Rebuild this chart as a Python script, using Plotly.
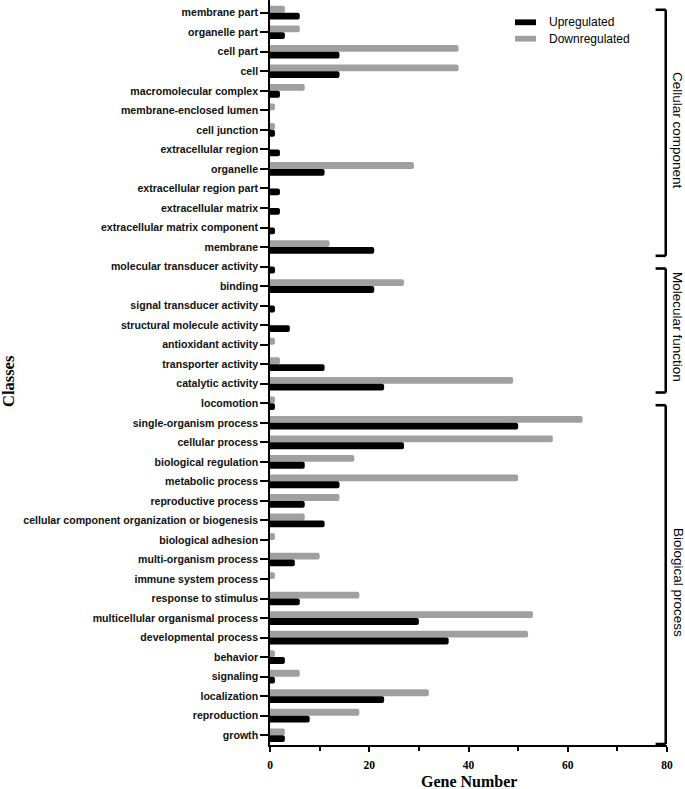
import plotly.graph_objects as go

categories = [
    "membrane part", "organelle part", "cell part", "cell", "macromolecular complex",
    "membrane-enclosed lumen", "cell junction", "extracellular region", "organelle",
    "extracellular region part", "extracellular matrix", "extracellular matrix component",
    "membrane",
    "molecular transducer activity", "binding", "signal transducer activity",
    "structural molecule activity", "antioxidant activity", "transporter activity",
    "catalytic activity",
    "locomotion", "single-organism process", "cellular process", "biological regulation",
    "metabolic process", "reproductive process",
    "cellular component organization or biogenesis", "biological adhesion",
    "multi-organism process", "immune system process", "response to stimulus",
    "multicellular organismal process", "developmental process", "behavior", "signaling",
    "localization", "reproduction", "growth",
]
upregulated = [6, 3, 14, 14, 2, 0, 1, 2, 11, 2, 2, 1, 21,
               1, 21, 1, 4, 0, 11, 23,
               1, 50, 27, 7, 14, 7, 11, 0, 5, 0, 6, 30, 36, 3, 1, 23, 8, 3]
downregulated = [3, 6, 38, 38, 7, 1, 1, 0, 29, 0, 0, 0, 12,
                 0, 27, 0, 0, 1, 2, 49,
                 1, 63, 57, 17, 50, 14, 7, 1, 10, 1, 18, 53, 52, 1, 6, 32, 18, 3]
x_ticks = [0, 20, 40, 60, 80]
groups = ["Cellular component", "Molecular function", "Biological process"]
group_first = ["membrane part", "molecular transducer activity", "locomotion"]
group_last = ["membrane", "catalytic activity", "growth"]
series_names = ["Upregulated", "Downregulated"]
series_colors = ["#000000", "#a0a0a0"]

SANS = "Liberation Sans"
SERIF = "Liberation Serif"
PLOT_H = 745.0

fig = go.Figure()
fig.add_trace(go.Bar(
    y=categories, x=downregulated, name="Downregulated", orientation="h",
    marker=dict(color=series_colors[1], line=dict(width=0)), showlegend=False,
))
fig.add_trace(go.Bar(
    y=categories, x=upregulated, name="Upregulated", orientation="h",
    marker=dict(color=series_colors[0], line=dict(width=0)), showlegend=False,
))

idx = {c: i for i, c in enumerate(categories)}
shapes = []
annotations = []
label_centers = [6.06, 16.1, 29.2]
for g, f, l, lc in zip(groups, group_first, group_last, label_centers):
    y0 = idx[f] - 0.15 if f == "membrane part" else idx[f] + 0.1
    y1 = idx[l] + 0.45
    xv = 79.75
    xa = 77.7
    lw = 2.6
    shapes.append(dict(type="line", xref="x", yref="y", x0=xv, x1=xv, y0=y0, y1=y1,
                       line=dict(color="black", width=lw)))
    shapes.append(dict(type="line", xref="x", yref="y", x0=xa, x1=xv, y0=y0, y1=y0,
                       line=dict(color="black", width=lw)))
    shapes.append(dict(type="line", xref="x", yref="y", x0=xa, x1=xv, y0=y1, y1=y1,
                       line=dict(color="black", width=lw)))
    annotations.append(dict(text=g, xref="paper", yref="y", x=1.0277, y=lc,
                            textangle=90, showarrow=False, xanchor="center", yanchor="middle",
                            font=dict(family=SANS, size=13.5, color="black")))

# legend drawn as swatches + text (matching the reference's bar-shaped keys)
leg_centers_px = [22.3, 38.7]
for name, col, cy in zip(series_names, series_colors, leg_centers_px):
    yc = 1 - cy / PLOT_H
    shapes.append(dict(type="rect", xref="paper", yref="paper",
                       x0=(515 - 270) / 397, x1=(536 - 270) / 397,
                       y0=yc - 2.9 / PLOT_H, y1=yc + 2.9 / PLOT_H,
                       fillcolor=col, line=dict(width=0)))
    annotations.append(dict(text=name, xref="paper", yref="paper",
                            x=(547 - 270) / 397, y=yc, xanchor="left", yanchor="middle",
                            showarrow=False,
                            font=dict(family=SANS, size=12, color="black")))

annotations.append(dict(text="Gene Number", xref="paper", yref="paper", x=0.501, y=0,
                        yanchor="middle", xanchor="center", yshift=-36.5, showarrow=False,
                        font=dict(family=SERIF, size=16, color="black", weight="bold")))
annotations.append(dict(text="Classes", xref="paper", yref="y", x=-0.657, y=18.85,
                        textangle=-90, xanchor="center", yanchor="middle", showarrow=False,
                        font=dict(family=SERIF, size=16.5, color="black", weight="bold")))

fig.update_layout(
    width=685, height=789,
    margin=dict(l=270, r=18, t=0, b=44, pad=0),
    plot_bgcolor="white", paper_bgcolor="white",
    barmode="group", bargap=0.3, bargroupgap=0, barcornerradius=2,
    shapes=shapes, annotations=annotations,
    showlegend=False,
)
fig.update_xaxes(
    range=[0, 80], tickvals=x_ticks, ticktext=[str(v) for v in x_ticks],
    showgrid=False, zeroline=False, showline=True, linecolor="black", linewidth=1.5,
    ticks="outside", ticklen=5, tickwidth=1.5, tickcolor="black",
    minor=dict(tickvals=[10, 30, 50, 70], ticks="outside", ticklen=4, tickwidth=1.5,
               tickcolor="black", showgrid=False),
    tickfont=dict(family=SERIF, size=11.5, color="black", weight="bold"),
    ticklabelstandoff=3,
)
fig.update_yaxes(
    categoryorder="array", categoryarray=categories, autorange=False,
    range=[37.5, -0.65],
    showgrid=False, zeroline=False, showline=True, linecolor="black", linewidth=1.5,
    ticks="outside", ticklen=8, tickwidth=1.5, tickcolor="black",
    tickfont=dict(family=SANS, size=10.6, color="#111111", weight="bold"),
)

fig.write_html("out.html", config={"displayModeBar": False},
               post_script="document.body.style.margin='0';document.body.style.overflow='hidden';")
